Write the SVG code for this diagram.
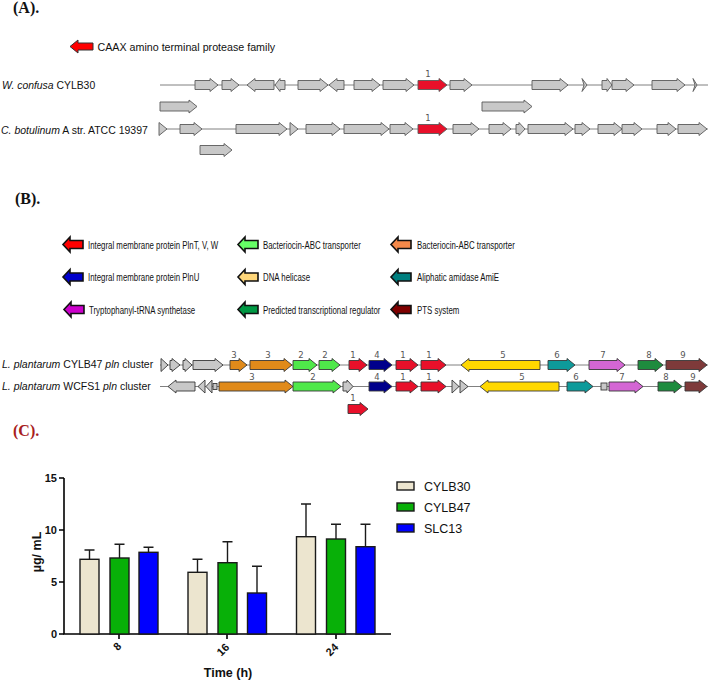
<svg xmlns="http://www.w3.org/2000/svg" width="708" height="680" viewBox="0 0 708 680">
<style>
.g{fill:#c8c8c8;stroke:#5a5a5a;stroke-width:0.9}
.gb{stroke:#383838;stroke-width:0.9}
.trk{stroke:#808080;stroke-width:1}
.num{font-family:"DejaVu Sans",sans-serif;font-size:8.5px;fill:#555;text-anchor:middle}
.sp{font-family:"Liberation Sans",Arial,sans-serif;font-size:10.5px;fill:#111}
.leg{font-family:"Liberation Sans",Arial,sans-serif;font-size:11px;fill:#111}
.la{stroke:#111;stroke-width:1.6;stroke-linejoin:miter}
.pnl{font-family:"Liberation Serif","Times New Roman",serif;font-weight:bold;font-size:16px;fill:#111}
.bar{stroke:#1a1a1a;stroke-width:1.4}
.err{stroke:#1a1a1a;stroke-width:1.4;fill:none}
.ax{stroke:#000;stroke-width:1.6;fill:none}
.tk{font-family:"Liberation Sans",Arial,sans-serif;font-weight:bold;font-size:11px;fill:#111}
.cl{font-family:"Liberation Sans",Arial,sans-serif;font-size:12.5px;fill:#111}
.red{fill:#e8102a}.org{fill:#e08a1a}.lgr{fill:#4fe84a}.blu{fill:#00008b}.yel{fill:#ffd800}.tea{fill:#0e9a9a}.mag{fill:#d466d4}.grn{fill:#1e8b3e}.brn{fill:#7e3a3a}.gry{fill:#c8c8c8}
</style>
<defs>
<polygon id="legArrow" class="la" points="20,-4 7,-4 7,-7.5 0,0 7,7.5 7,4 20,4"/>
</defs>

<!-- Panel A -->
<text class="pnl" x="13" y="13">(A).</text>
<g id="legendA">
<polygon transform="translate(70,46.5)" points="23,-3.5 8,-3.5 8,-6.5 0,0 8,6.5 8,3.5 23,3.5" fill="#ff0000" stroke="#333" stroke-width="1"/>
<text class="sp" style="font-size:10.7px" x="97.5" y="50.5">CAAX amino terminal protease family</text>
</g>

<g id="labelsA">
<text class="sp" x="2" y="89.2" style="font-size:10.4px"><tspan font-style="italic">W. confusa</tspan> CYLB30</text>
<text class="sp" x="1" y="133.5"><tspan font-style="italic">C. botulinum</tspan> A str. ATCC 19397</text>
</g>

<g id="connectors">
<line class="trk" x1="160" y1="85" x2="708" y2="85"/>
<line class="trk" x1="160" y1="129" x2="708" y2="129"/>
<line class="trk" x1="160" y1="365" x2="708" y2="365"/>
<line class="trk" x1="160" y1="386.5" x2="708" y2="386.5"/>
</g>

<g id="trackA1" transform="translate(0,85)" class="g">
<polygon id="a1g1" points="195,-4.5 210,-4.5 210,-6.5 218,0 210,6.5 210,4.5 195,4.5"/>
<polygon id="a1g2" points="222,-4.5 231,-4.5 231,-6.5 239,0 231,6.5 231,4.5 222,4.5"/>
<polygon id="a1g3" points="274,-4.5 255,-4.5 255,-6.5 247,0 255,6.5 255,4.5 274,4.5"/>
<polygon id="a1g4" points="285,-4.5 280,-4.5 280,-6.5 275,0 280,6.5 280,4.5 285,4.5"/>
<polygon id="a1g5" points="298,-4.5 320,-4.5 320,-6.5 328,0 320,6.5 320,4.5 298,4.5"/>
<polygon id="a1g6" points="344,-4.5 337,-4.5 337,-6.5 329,0 337,6.5 337,4.5 344,4.5"/>
<polygon id="a1g7" points="354,-4.5 372,-4.5 372,-6.5 380,0 372,6.5 372,4.5 354,4.5"/>
<polygon id="a1g8" points="383,-4.5 406,-4.5 406,-6.5 414,0 406,6.5 406,4.5 383,4.5"/>
<polygon id="a1g9" class="red" points="418,-4.5 439,-4.5 439,-6.5 447,0 439,6.5 439,4.5 418,4.5"/>
<polygon id="a1g10" points="450,-4.5 464,-4.5 464,-6.5 472,0 464,6.5 464,4.5 450,4.5"/>
<polygon id="a1g11" points="532,-4.5 560,-4.5 560,-6.5 568,0 560,6.5 560,4.5 532,4.5"/>
<polygon id="a1g12" points="582,-6.5 587,0 582,6.5 584,0"/>
<polygon id="a1g13" points="602,-4.5 607,-4.5 607,-6.5 612,0 607,6.5 607,4.5 602,4.5"/>
<polygon id="a1g14" points="612,-4.5 626,-4.5 626,-6.5 634,0 626,6.5 626,4.5 612,4.5"/>
<polygon id="a1g15" points="652,-4.5 677,-4.5 677,-6.5 685,0 677,6.5 677,4.5 652,4.5"/>
<polygon id="a1g16" points="693,-6.5 697,0 693,6.5 695,0"/>
</g>
<g id="trackA1b" transform="translate(0,106.5)" class="g">
<polygon id="a1u1" points="160,-4.5 189,-4.5 189,-6.5 197,0 189,6.5 189,4.5 160,4.5"/>
<polygon id="a1u2" points="482,-4.5 524,-4.5 524,-6.5 532,0 524,6.5 524,4.5 482,4.5"/>
</g>

<g id="trackA2" transform="translate(0,129)" class="g">
<polygon id="a2g1" points="159,-6.5 167,0 159,6.5"/>
<polygon id="a2g2" points="180,-4.5 194,-4.5 194,-6.5 202,0 194,6.5 194,4.5 180,4.5"/>
<polygon id="a2g3" points="236,-4.5 279,-4.5 279,-6.5 287,0 279,6.5 279,4.5 236,4.5"/>
<polygon id="a2g4" points="290,-6.5 298,0 290,6.5"/>
<polygon id="a2g5" points="306,-4.5 332,-4.5 332,-6.5 340,0 332,6.5 332,4.5 306,4.5"/>
<polygon id="a2g6" points="344,-4.5 381,-4.5 381,-6.5 389,0 381,6.5 381,4.5 344,4.5"/>
<polygon id="a2g7" points="390,-4.5 405,-4.5 405,-6.5 413,0 405,6.5 405,4.5 390,4.5"/>
<polygon id="a2g8" class="red" points="418,-4.5 439,-4.5 439,-6.5 447,0 439,6.5 439,4.5 418,4.5"/>
<polygon id="a2g9" points="453,-4.5 471,-4.5 471,-6.5 479,0 471,6.5 471,4.5 453,4.5"/>
<polygon id="a2g10" points="489,-4.5 503,-4.5 503,-6.5 511,0 503,6.5 503,4.5 489,4.5"/>
<polygon id="a2g11" points="516,-4.5 519,-4.5 519,-6.5 525,0 519,6.5 519,4.5 516,4.5"/>
<polygon id="a2g12" points="528,-4.5 565,-4.5 565,-6.5 573,0 565,6.5 565,4.5 528,4.5"/>
<polygon id="a2g13" points="575,-4.5 582,-4.5 582,-6.5 590,0 582,6.5 582,4.5 575,4.5"/>
<polygon id="a2g14" points="598,-4.5 614,-4.5 614,-6.5 622,0 614,6.5 614,4.5 598,4.5"/>
<polygon id="a2g15" points="622,-4.5 634,-4.5 634,-6.5 642,0 634,6.5 634,4.5 622,4.5"/>
<polygon id="a2g16" points="657,-4.5 668,-4.5 668,-6.5 676,0 668,6.5 668,4.5 657,4.5"/>
<polygon id="a2g17" points="678,-4.5 699,-4.5 699,-6.5 707,0 699,6.5 699,4.5 678,4.5"/>
</g>
<g id="trackA2b" transform="translate(0,150)" class="g">
<polygon id="a2u1" points="200,-4.5 224,-4.5 224,-6.5 232,0 224,6.5 224,4.5 200,4.5"/>
</g>
<g id="numsA">
<text class="num" x="428" y="77">1</text>
<text class="num" x="428" y="121">1</text>
</g>

<!-- Panel B -->
<text class="pnl" x="15" y="204">(B).</text>
<g id="legendB">
<g id="lb1" transform="translate(63,244.5)"><use href="#legArrow" fill="#ff0000"/><text class="leg" transform="translate(25,4) scale(0.715,1)">Integral membrane protein PlnT, V, W</text></g>
<g id="lb2" transform="translate(238,244.5)"><use href="#legArrow" fill="#66ff66"/><text class="leg" transform="translate(25,4) scale(0.715,1)">Bacteriocin-ABC transporter</text></g>
<g id="lb3" transform="translate(391,244.5)"><use href="#legArrow" fill="#f4894a"/><text class="leg" transform="translate(26,4) scale(0.715,1)">Bacteriocin-ABC transporter</text></g>
<g id="lb4" transform="translate(63,277)"><use href="#legArrow" fill="#0000cc"/><text class="leg" transform="translate(25,4) scale(0.715,1)">Integral membrane protein PlnU</text></g>
<g id="lb5" transform="translate(238,277)"><use href="#legArrow" fill="#ffd77a"/><text class="leg" transform="translate(25,4) scale(0.715,1)">DNA helicase</text></g>
<g id="lb6" transform="translate(391,277)"><use href="#legArrow" fill="#007f7f"/><text class="leg" transform="translate(26,4) scale(0.715,1)">Aliphatic amidase AmiE</text></g>
<g id="lb7" transform="translate(64,309.5)"><use href="#legArrow" fill="#cc00cc"/><text class="leg" transform="translate(25,4) scale(0.715,1)">Tryptophanyl-tRNA synthetase</text></g>
<g id="lb8" transform="translate(238,309.5)"><use href="#legArrow" fill="#009944"/><text class="leg" transform="translate(25,4) scale(0.715,1)">Predicted transcriptional regulator</text></g>
<g id="lb9" transform="translate(391,309.5)"><use href="#legArrow" fill="#7f0000"/><text class="leg" transform="translate(26,4) scale(0.715,1)">PTS system</text></g>
</g>

<g id="labelsB">
<text class="sp" x="2" y="368"><tspan font-style="italic">L. plantarum</tspan> CYLB47 <tspan font-style="italic">pln</tspan> cluster</text>
<text class="sp" x="2" y="389.5"><tspan font-style="italic">L. plantarum</tspan> WCFS1 <tspan font-style="italic">pln</tspan> cluster</text>
</g>

<g id="trackB1" transform="translate(0,365)" class="g gb">
<polygon id="b1g1" points="161,-6.5 168,0 161,6.5"/>
<polygon id="b1g2" points="170,-4.5 172,-4.5 172,-6.5 180,0 172,6.5 172,4.5 170,4.5"/>
<polygon id="b1g3" points="183,-4.5 185,-4.5 185,-6.5 192,0 185,6.5 185,4.5 183,4.5"/>
<polygon id="b1g4" points="193,-4.5 215,-4.5 215,-6.5 223,0 215,6.5 215,4.5 193,4.5"/>
<polygon id="b1g5" class="org" points="230,-4.5 239,-4.5 239,-6.5 247,0 239,6.5 239,4.5 230,4.5"/>
<polygon id="b1g6" class="org" points="250,-4.5 284,-4.5 284,-6.5 292,0 284,6.5 284,4.5 250,4.5"/>
<polygon id="b1g7" class="lgr" points="293,-4.5 309,-4.5 309,-6.5 317,0 309,6.5 309,4.5 293,4.5"/>
<polygon id="b1g8" class="lgr" points="319,-4.5 332,-4.5 332,-6.5 340,0 332,6.5 332,4.5 319,4.5"/>
<polygon id="b1g9" class="red" points="349,-4.5 359,-4.5 359,-6.5 367,0 359,6.5 359,4.5 349,4.5"/>
<polygon id="b1g10" class="blu" points="369,-4.5 384,-4.5 384,-6.5 392,0 384,6.5 384,4.5 369,4.5"/>
<polygon id="b1g11" class="red" points="396,-4.5 410,-4.5 410,-6.5 418,0 410,6.5 410,4.5 396,4.5"/>
<polygon id="b1g12" class="red" points="421,-4.5 438,-4.5 438,-6.5 446,0 438,6.5 438,4.5 421,4.5"/>
<polygon id="b1g13" class="yel" points="540,-4.5 469,-4.5 469,-6.5 461,0 469,6.5 469,4.5 540,4.5"/>
<polygon id="b1g14" class="tea" points="548,-4.5 567,-4.5 567,-6.5 575,0 567,6.5 567,4.5 548,4.5"/>
<polygon id="b1g15" class="mag" points="589,-4.5 617,-4.5 617,-6.5 625,0 617,6.5 617,4.5 589,4.5"/>
<polygon id="b1g16" class="grn" points="638,-4.5 655,-4.5 655,-6.5 663,0 655,6.5 655,4.5 638,4.5"/>
<polygon id="b1g17" class="brn" points="666,-4.5 699,-4.5 699,-6.5 707,0 699,6.5 699,4.5 666,4.5"/>
</g>

<g id="trackB2" transform="translate(0,386.5)" class="g gb">
<polygon id="b2g1" points="195,-4.5 176,-4.5 176,-6.5 168,0 176,6.5 176,4.5 195,4.5"/>
<polygon id="b2g2" points="205,-6.5 198,0 205,6.5"/>
<polygon id="b2g3" points="212,-6.5 206,0 212,6.5"/>
<rect id="b2g4" x="213" y="-3" width="4" height="6"/>
<polygon id="b2g5" class="org" points="219,-4.5 285,-4.5 285,-6.5 293,0 285,6.5 285,4.5 219,4.5"/>
<polygon id="b2g6" class="lgr" points="293,-4.5 333,-4.5 333,-6.5 341,0 333,6.5 333,4.5 293,4.5"/>
<polygon id="b2g7" points="343,-4.5 347,-4.5 347,-6.5 353,0 347,6.5 347,4.5 343,4.5"/>
<polygon id="b2g8" class="blu" points="369,-4.5 384,-4.5 384,-6.5 392,0 384,6.5 384,4.5 369,4.5"/>
<polygon id="b2g9" class="red" points="396,-4.5 410,-4.5 410,-6.5 418,0 410,6.5 410,4.5 396,4.5"/>
<polygon id="b2g10" class="red" points="421,-4.5 438,-4.5 438,-6.5 446,0 438,6.5 438,4.5 421,4.5"/>
<polygon id="b2g11" points="452,-6.5 459,0 452,6.5"/>
<polygon id="b2g12" points="460,-6.5 468,0 460,6.5"/>
<polygon id="b2g13" class="yel" points="559,-4.5 488,-4.5 488,-6.5 480,0 488,6.5 488,4.5 559,4.5"/>
<polygon id="b2g14" class="tea" points="567,-4.5 585,-4.5 585,-6.5 593,0 585,6.5 585,4.5 567,4.5"/>
<rect id="b2g15" x="601" y="-3.5" width="6" height="7"/>
<polygon id="b2g16" class="mag" points="609,-4.5 635,-4.5 635,-6.5 643,0 635,6.5 635,4.5 609,4.5"/>
<polygon id="b2g17" class="grn" points="658,-4.5 674,-4.5 674,-6.5 682,0 674,6.5 674,4.5 658,4.5"/>
<polygon id="b2g18" class="brn" points="685,-4.5 699,-4.5 699,-6.5 707,0 699,6.5 699,4.5 685,4.5"/>
</g>
<g id="trackB2b" transform="translate(0,409)" class="g gb">
<polygon id="b2u1" class="red" points="348,-4.5 360,-4.5 360,-6.5 368,0 360,6.5 360,4.5 348,4.5"/>
</g>

<g id="numsB">
<text class="num" x="234" y="358">3</text>
<text class="num" x="268" y="358">3</text>
<text class="num" x="301" y="358">2</text>
<text class="num" x="325" y="358">2</text>
<text class="num" x="353" y="358">1</text>
<text class="num" x="377" y="358">4</text>
<text class="num" x="403" y="358">1</text>
<text class="num" x="429" y="358">1</text>
<text class="num" x="503" y="358">5</text>
<text class="num" x="557" y="358">6</text>
<text class="num" x="603" y="358">7</text>
<text class="num" x="649" y="358">8</text>
<text class="num" x="683" y="358">9</text>
<text class="num" x="252" y="379.5">3</text>
<text class="num" x="313" y="379.5">2</text>
<text class="num" x="377" y="379.5">4</text>
<text class="num" x="403" y="379.5">1</text>
<text class="num" x="429" y="379.5">1</text>
<text class="num" x="522" y="379.5">5</text>
<text class="num" x="576" y="379.5">6</text>
<text class="num" x="622" y="379.5">7</text>
<text class="num" x="666" y="379.5">8</text>
<text class="num" x="693" y="379.5">9</text>
<text class="num" x="353" y="401">1</text>
</g>

<!-- Panel C -->
<text class="pnl" x="13" y="436" style="fill:#a8201c">(C).</text>
<g id="chart">
<g id="axes">
<path class="ax" d="M64,478 V634 H391"/>
<path class="ax" d="M59,478 H64 M59,530 H64 M59,582 H64 M59,634 H64 M119,634 V639 M227,634 V639 M336,634 V639"/>
<text class="tk" x="57" y="482" text-anchor="end">15</text>
<text class="tk" x="57" y="534" text-anchor="end">10</text>
<text class="tk" x="57" y="586" text-anchor="end">5</text>
<text class="tk" x="57" y="638" text-anchor="end">0</text>
<text class="tk" transform="translate(122,647) rotate(-45)" text-anchor="end">8</text>
<text class="tk" transform="translate(230,648) rotate(-45)" text-anchor="end">16</text>
<text class="tk" transform="translate(339,648) rotate(-45)" text-anchor="end">24</text>
<text class="tk" style="font-size:12.5px" x="228" y="677" text-anchor="middle">Time (h)</text>
<text class="tk" style="font-size:12.5px" transform="translate(40.5,552) rotate(-90)" text-anchor="middle">µg/ mL</text>
</g>
<g id="bars">
<path class="err" d="M89.5,559.3 V550 M84.5,550 H94.5 M119.5,558 V544.3 M114.5,544.3 H124.5 M148.5,552.3 V547.3 M143.5,547.3 H153.5 M197.5,572.3 V559.3 M192.5,559.3 H202.5 M227.5,562.7 V541.7 M222.5,541.7 H232.5 M257,593 V566.3 M252,566.3 H262 M306,536.7 V504 M301,504 H311 M336,539 V524.3 M331,524.3 H341 M365.5,546.7 V524.3 M360.5,524.3 H370.5"/>
<rect class="bar" x="80" y="559.3" width="19" height="74.7" fill="#ece5cf"/>
<rect class="bar" x="110" y="558" width="19" height="76" fill="#08b008"/>
<rect class="bar" x="139" y="552.3" width="19" height="81.7" fill="#0000ff"/>
<rect class="bar" x="188" y="572.3" width="19" height="61.7" fill="#ece5cf"/>
<rect class="bar" x="218" y="562.7" width="19" height="71.3" fill="#08b008"/>
<rect class="bar" x="247.5" y="593" width="19" height="41" fill="#0000ff"/>
<rect class="bar" x="296.5" y="536.7" width="19" height="97.3" fill="#ece5cf"/>
<rect class="bar" x="326.5" y="539" width="19" height="95" fill="#08b008"/>
<rect class="bar" x="356" y="546.7" width="19" height="87.3" fill="#0000ff"/>
</g>
<g id="legendC">
<rect class="bar" x="397" y="482" width="17" height="8" fill="#ece5cf"/>
<text class="cl" x="424" y="491">CYLB30</text>
<rect class="bar" x="397" y="503" width="17" height="8" fill="#08b008"/>
<text class="cl" x="424" y="512">CYLB47</text>
<rect class="bar" x="397" y="524" width="17" height="8" fill="#0000ff"/>
<text class="cl" x="424" y="533">SLC13</text>
</g>
</g>
</svg>
